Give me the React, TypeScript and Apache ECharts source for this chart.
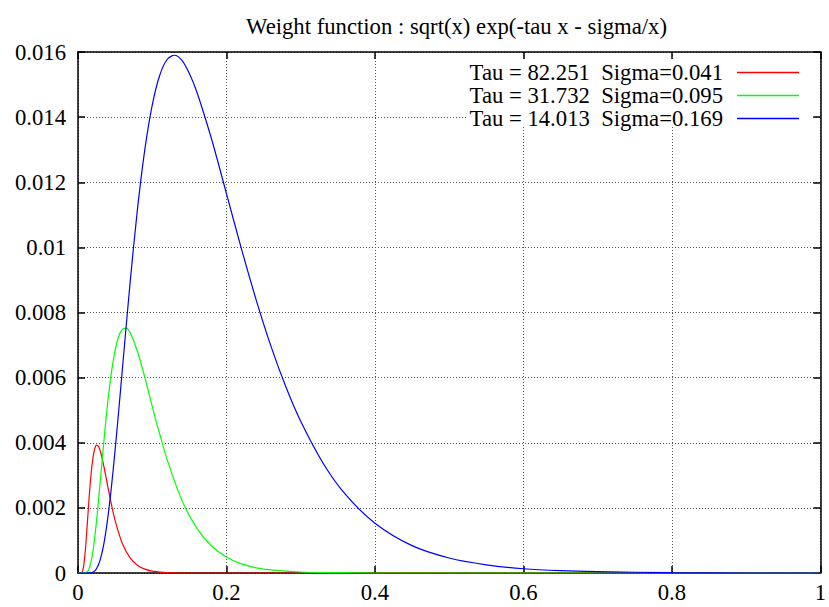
import React, { useEffect, useRef } from 'react';
import * as echarts from 'echarts';

const titleText = 'Weight function : sqrt(x) exp(-tau x - sigma/x)';
const seriesNames = [
  'Tau = 82.251  Sigma=0.041',
  'Tau = 31.732  Sigma=0.095',
  'Tau = 14.013  Sigma=0.169',
];
const seriesColors = ['#ff0000', '#00ff00', '#0000ff'];

const redX = [0, 0.005, 0.0075, 0.01, 0.0125, 0.015, 0.0175, 0.02, 0.0225, 0.025, 0.0275, 0.03, 0.035, 0.04, 0.045, 0.05, 0.06, 0.07, 0.08, 0.09, 0.1, 0.12, 0.15, 0.2, 1];
const redY = [0, 0.00001, 0.0002, 0.00073, 0.0015, 0.00232, 0.00301, 0.00351, 0.00381, 0.00393, 0.00389, 0.00375, 0.00326, 0.00267, 0.00211, 0.00161, 0.00089, 0.00047, 0.00024, 0.00012, 0.00006, 0.00001, 0, 0, 0];

const greenX = [0, 0.01, 0.015, 0.02, 0.025, 0.03, 0.035, 0.04, 0.045, 0.05, 0.055, 0.06, 0.065, 0.07, 0.08, 0.09, 0.1, 0.11, 0.12, 0.14, 0.16, 0.18, 0.2, 0.22, 0.25, 0.3, 0.35, 0.4, 1];
const greenY = [0, 0.00001, 0.000135, 0.00065, 0.0016, 0.00282, 0.00408, 0.00523, 0.00616, 0.00684, 0.00728, 0.00749, 0.00752, 0.00739, 0.00681, 0.00601, 0.00512, 0.00427, 0.00349, 0.00223, 0.00138, 0.00083, 0.00049, 0.00028, 0.00012, 0.00003, 0.00001, 0, 0];

const blueX = [0, 0.015, 0.02, 0.025, 0.03, 0.035, 0.04, 0.045, 0.05, 0.055, 0.06, 0.07, 0.08, 0.09, 0.1, 0.11, 0.12, 0.13, 0.14, 0.15, 0.16, 0.18, 0.2, 0.22, 0.24, 0.26, 0.28, 0.3, 0.33, 0.36, 0.4, 0.45, 0.5, 0.55, 0.6, 0.65, 0.7, 0.8, 0.9, 1];
const blueY = [0, 0, 0.00002, 0.00013, 0.00041, 0.00092, 0.00167, 0.00264, 0.00378, 0.00502, 0.00632, 0.00887, 0.01115, 0.013, 0.01437, 0.01528, 0.01577, 0.0159, 0.01574, 0.01534, 0.01478, 0.01332, 0.01165, 0.00997, 0.00839, 0.00696, 0.00572, 0.00466, 0.00338, 0.00242, 0.00153, 0.00084, 0.00046, 0.00025, 0.00013, 0.00007, 0.00004, 0.00001, 0, 0];

const xMin = 0, xMax = 1, xStep = 0.2;
const yMin = 0, yMax = 0.016, yStep = 0.002;

const FONT = "'Liberation Serif', 'Times New Roman', serif";
const FS = 22.7;

function pairs(xs: number[], ys: number[]) {
  return xs.map((x, i) => [x, ys[i]]);
}

export default function App() {
  const ref = useRef<HTMLDivElement>(null);
  useEffect(() => {
    const chart = echarts.init(ref.current!, null, { renderer: 'svg' });
    const gridLine = { show: true, lineStyle: { color: '#555', width: 1, type: [1, 2] as any } };
    const frameLine = { show: true, onZero: false, lineStyle: { color: '#000', width: 1.5 } };
    const tick = { show: true, inside: true, length: 7, lineStyle: { color: '#000', width: 1.5 } };
    const data = [pairs(redX, redY), pairs(greenX, greenY), pairs(blueX, blueY)];
    chart.setOption({
      animation: false,
      backgroundColor: '#fff',
      textStyle: { fontFamily: FONT },
      title: {
        text: titleText,
        left: 451.5,
        textAlign: 'center',
        top: 10,
        textStyle: { fontFamily: FONT, fontSize: FS, fontWeight: 'normal', color: '#000' },
      },
      legend: {
        orient: 'vertical',
        right: 30,
        top: 61,
        padding: 0,
        align: 'right',
        itemWidth: 62,
        itemHeight: 1.5,
        itemGap: 0,
        selectedMode: false,
        textStyle: { fontFamily: FONT, fontSize: FS, color: '#000', lineHeight: 21.7, padding: [0, 9, 0, 0] },
        data: seriesNames.map((n) => ({ name: n, icon: 'rect' })),
      },
      grid: { left: 78, right: 4, top: 52, bottom: 34, containLabel: false },
      xAxis: [
        {
          type: 'value', min: xMin, max: xMax, interval: xStep,
          axisLine: frameLine, axisTick: tick, splitLine: gridLine,
          axisLabel: { show: true, margin: 8, color: '#000', fontFamily: FONT, fontSize: FS },
        },
        {
          type: 'value', position: 'top', min: xMin, max: xMax, interval: xStep,
          axisLine: frameLine, axisTick: tick, splitLine: { show: false },
          axisLabel: { show: false },
        },
      ],
      yAxis: [
        {
          type: 'value', min: yMin, max: yMax, interval: yStep,
          axisLine: frameLine, axisTick: tick, splitLine: gridLine,
          axisLabel: { show: true, margin: 12, color: '#000', fontFamily: FONT, fontSize: FS },
        },
        {
          type: 'value', position: 'right', min: yMin, max: yMax, interval: yStep,
          axisLine: frameLine, axisTick: tick, splitLine: { show: false },
          axisLabel: { show: false },
        },
      ],
      graphic: [
        {
          type: 'rect', z: 1, silent: true,
          shape: { x: 467, y: 60, width: 346, height: 67 },
          style: { fill: '#fff' },
        },
      ],
      series: seriesNames.map((name, i) => ({
        name,
        type: 'line',
        xAxisIndex: 0,
        yAxisIndex: 0,
        data: data[i],
        smooth: 0.3,
        showSymbol: false,
        symbol: 'none',
        z: 3,
        lineStyle: { color: seriesColors[i], width: 1.2 },
        itemStyle: { color: seriesColors[i] },
      })),
    });
    return () => chart.dispose();
  }, []);
  return (
    <div
      ref={ref}
      style={{ position: 'absolute', left: 0, top: 0, width: 829, height: 607 }}
    />
  );
}
